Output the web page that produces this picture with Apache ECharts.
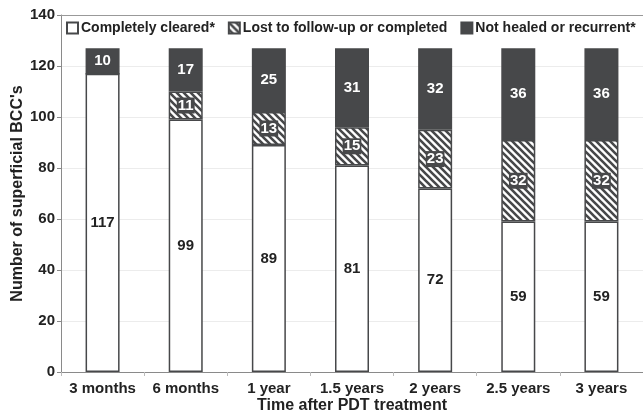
<!DOCTYPE html>
<html>
<head>
<meta charset="utf-8">
<script src="https://cdn.jsdelivr.net/npm/echarts@6/dist/echarts.min.js"></script>
<style>
    html, body { margin: 0; padding: 0; background: #fff; }
    #main { width: 643px; height: 416px; }
</style>
</head>
<body>
<div id="main"></div>
<script>
let timePoints = ['3 months', '6 months', '1 year', '1.5 years', '2 years', '2.5 years', '3 years'],
    clearedData = [117, 99, 89, 81, 72, 59, 59],
    lostData = [0, 11, 13, 15, 23, 32, 32],
    notHealedData = [10, 17, 25, 31, 32, 36, 36],
    yTicks = [0, 20, 40, 60, 80, 100, 120, 140];

let dark = '#47484a',
    font = 'Liberation Sans, Arial, sans-serif';

// 斜线填充
function hatchPattern() {
    let s = 7;
    let c = document.createElement('canvas');
    c.width = s;
    c.height = s;
    let ctx = c.getContext('2d');
    ctx.fillStyle = '#fff';
    ctx.fillRect(0, 0, s, s);
    ctx.strokeStyle = dark;
    ctx.lineWidth = 2.6;
    ctx.beginPath();
    ctx.moveTo(-s, 0); ctx.lineTo(s, 2 * s);
    ctx.moveTo(-s / 2, -s / 2); ctx.lineTo(s * 1.5, s * 1.5);
    ctx.moveTo(0, -s); ctx.lineTo(2 * s, s);
    ctx.stroke();
    return c;
}

let myChart = echarts.init(document.getElementById('main'));

let labelBase = {
    show: true,
    position: 'inside',
    fontFamily: font,
    fontWeight: 'bold',
    fontSize: 15
};

let option = {
    animation: false,
    textStyle: { fontFamily: font },
    grid: { left: 61, right: 0, top: 15, bottom: 44, outerBoundsMode: 'none' },
    legend: {
        top: 21,
        left: 66,
        padding: 0,
        itemWidth: 11,
        itemHeight: 11,
        itemGap: 13,
        icon: 'rect',
        textStyle: { fontFamily: font, fontWeight: 'bold', fontSize: 14, color: '#222', padding: [0, 0, 0, -2] },
        data: ['Completely cleared*', 'Lost to follow-up or completed', 'Not healed or recurrent*']
    },
    xAxis: [{
        type: 'category',
        data: timePoints,
        name: 'Time after PDT treatment',
        nameLocation: 'middle',
        nameGap: 26,
        nameMoveOverlap: false,
        nameTextStyle: { fontFamily: font, fontWeight: 'bold', fontSize: 16, color: '#222' },
        axisLine: { lineStyle: { color: '#8a8a8a', width: 1 } },
        axisTick: { show: true, length: 4, lineStyle: { color: '#bbb' } },
        axisLabel: { interval: 0, fontFamily: font, fontWeight: 'bold', fontSize: 15, color: '#222', margin: 9 }
    }, {
        type: 'category',
        position: 'top',
        data: timePoints,
        axisLine: { show: true, lineStyle: { color: '#999', width: 1 } },
        axisTick: { show: false },
        axisLabel: { show: false }
    }],
    yAxis: {
        type: 'value',
        min: yTicks[0],
        max: yTicks[yTicks.length - 1],
        interval: 20,
        name: "Number of superficial BCC's",
        nameLocation: 'middle',
        nameGap: 35,
        nameMoveOverlap: false,
        nameTextStyle: { fontFamily: font, fontWeight: 'bold', fontSize: 16, color: '#222' },
        axisLine: { show: true, lineStyle: { color: '#8a8a8a', width: 1 } },
        axisTick: { show: true, length: 4, lineStyle: { color: '#8a8a8a' } },
        axisLabel: { fontFamily: font, fontWeight: 'bold', fontSize: 15, color: '#222', margin: 6 },
        splitLine: { show: true, lineStyle: { color: '#ececec', width: 1 } }
    },
    series: [{
        name: 'Completely cleared*',
        type: 'bar',
        stack: 'total',
        barWidth: 34,
        data: clearedData,
        itemStyle: { color: '#fff', borderColor: dark, borderWidth: 1.5 },
        label: Object.assign({}, labelBase, { color: '#222' })
    }, {
        name: 'Lost to follow-up or completed',
        type: 'bar',
        stack: 'total',
        barWidth: 34,
        data: lostData,
        itemStyle: { color: { image: hatchPattern(), repeat: 'repeat' }, borderColor: dark, borderWidth: 1.5 },
        label: Object.assign({}, labelBase, {
            color: '#fff',
            backgroundColor: dark,
            padding: [1, 1, 0, 1],
            formatter: function (p) { return p.value ? p.value : ''; }
        })
    }, {
        name: 'Not healed or recurrent*',
        type: 'bar',
        stack: 'total',
        barWidth: 34,
        data: notHealedData,
        itemStyle: { color: dark, borderColor: dark, borderWidth: 1.5 },
        label: Object.assign({}, labelBase, { color: '#fff' })
    }]
};

myChart.setOption(option);
</script>
</body>
</html>
